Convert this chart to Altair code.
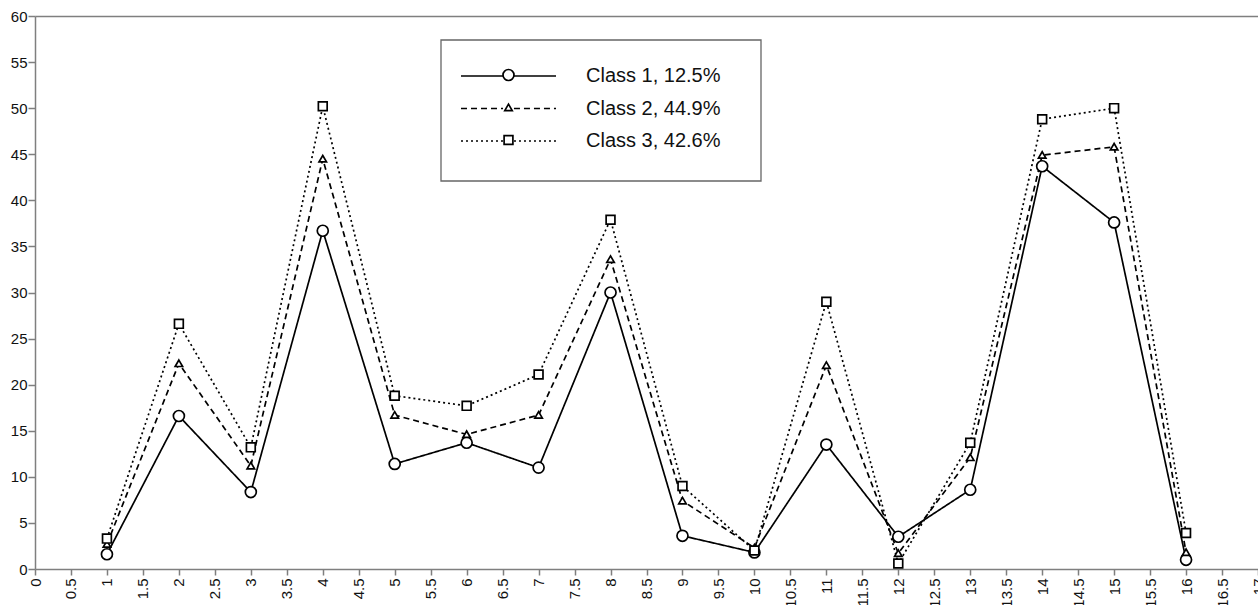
import altair as alt
import pandas as pd

# ---- data ----
x_vals = list(range(1, 17))
class_names = ["Class 1, 12.5%", "Class 2, 44.9%", "Class 3, 42.6%"]
class1 = [1.6, 16.6, 8.35, 36.7, 11.4, 13.7, 11.0, 30.0, 3.6, 1.8, 13.5, 3.5, 8.6, 43.7, 37.6, 1.0]
class2 = [2.7, 22.3, 11.2, 44.5, 16.7, 14.6, 16.7, 33.6, 7.4, 2.3, 22.1, 1.7, 12.1, 44.9, 45.8, 1.8]
class3 = [3.3, 26.6, 13.2, 50.2, 18.8, 17.7, 21.1, 37.9, 9.0, 2.0, 29.0, 0.6, 13.7, 48.8, 50.0, 3.9]
x_ticks = [0, 0.5, 1, 1.5, 2, 2.5, 3, 3.5, 4, 4.5, 5, 5.5, 6, 6.5, 7, 7.5, 8, 8.5,
           9, 9.5, 10, 10.5, 11, 11.5, 12, 12.5, 13, 13.5, 14, 14.5, 15, 15.5, 16, 16.5, 17]
y_ticks = [0, 5, 10, 15, 20, 25, 30, 35, 40, 45, 50, 55, 60]

rows = []
for name, vals in zip(class_names, [class1, class2, class3]):
    for x, v in zip(x_vals, vals):
        rows.append({"x": x, "value": v, "class": name, "series": name})
df = pd.DataFrame(rows)
df_legend = pd.DataFrame({"series": class_names})
df_box = pd.DataFrame({"box": [0]})

FONT = "Liberation Sans"
AXIS_GRAY = "#7f7f7f"

x_scale = alt.Scale(domain=[0, 17], nice=False, zero=False)
y_scale = alt.Scale(domain=[0, 60], nice=False)
shape_scale = alt.Scale(domain=class_names, range=[
    "circle",
    "M0,-0.62L0.68,0.55L-0.68,0.55Z",
    "M-0.8,-0.8L0.8,-0.8L0.8,0.8L-0.8,0.8Z",
])

y_axis = alt.Axis(values=y_ticks, title=None, grid=False,
                  domainColor=AXIS_GRAY, domainWidth=1.5,
                  tickColor=AXIS_GRAY, tickWidth=1.5, tickSize=7,
                  labelPadding=1, labelFontSize=15, labelFont=FONT,
                  labelColor="#111111", labelOverlap=False)

x_axis_bottom = alt.Axis(values=x_ticks, format="~g", labelAngle=270, title=None,
                         grid=False, domainColor=AXIS_GRAY, domainWidth=1.5,
                         tickColor=AXIS_GRAY, tickWidth=1.5, tickSize=6,
                         labelPadding=3, labelFontSize=15, labelFont=FONT,
                         labelColor="#111111", labelFlush=False, labelOverlap=False)

x_axis_top = alt.Axis(orient="top", labels=False, ticks=False, grid=False, title=None,
                      domainColor=AXIS_GRAY, domainWidth=1.5)

legend_lines = alt.Legend(
    title=None, orient="none", legendX=406, legendY=23,
    symbolType="M-10,0L-1.15,0M1.15,0L10,0", symbolSize=90.25,
    symbolStrokeWidth=1.7, symbolStrokeColor="black",
    symbolOffset=30.5, labelOffset=67.5,
    labelFontSize=20, labelFont=FONT, labelColor="#111111",
    padding=27, rowPadding=12.5,
)

lines = alt.Chart(df).mark_line(color="black", strokeWidth=1.7).encode(
    x=alt.X("x:Q", scale=x_scale, axis=x_axis_top),
    y=alt.Y("value:Q", scale=y_scale, axis=y_axis),
    strokeDash=alt.StrokeDash(
        "class:N",
        scale=alt.Scale(range=[[1, 0], [6, 4], [2, 3]]),
        legend=legend_lines,
    ),
)

points = alt.Chart(df).mark_point(
    filled=False, fill="white", stroke="black", strokeWidth=1.7, opacity=1, size=121
).encode(
    x=alt.X("x:Q", scale=x_scale, axis=x_axis_bottom),
    y=alt.Y("value:Q", scale=y_scale, axis=None),
    shape=alt.Shape("series:N", scale=shape_scale, legend=None),
)

# legend markers (one per class), placed on the legend rows
legend_markers = alt.Chart(df_legend).mark_point(
    filled=False, fill="white", stroke="black", strokeWidth=1.7, opacity=1, size=121
).encode(
    x=alt.value(473.5),
    y=alt.Y("series:N", sort=class_names, axis=None,
            scale=alt.Scale(range=[59, 124], padding=0)),
    shape=alt.Shape("series:N", scale=shape_scale, legend=None),
)

legend_box = alt.Chart(df_box).mark_rect(
    fill=None, stroke="#666666", strokeWidth=1.3
).encode(
    x=alt.value(406), x2=alt.value(726), y=alt.value(24), y2=alt.value(165)
)

chart = alt.layer(lines, points, legend_markers, legend_box).resolve_axis(
    x="independent"
).resolve_scale(y="independent").properties(
    width=1223, height=553,
    padding={"left": 35, "top": 16, "right": 0, "bottom": 36},
    autosize=alt.AutoSizeParams(type="none"),
    background="white",
).configure_view(stroke=None)

chart.save("out.html", embed_options={"renderer": "svg", "actions": False})
